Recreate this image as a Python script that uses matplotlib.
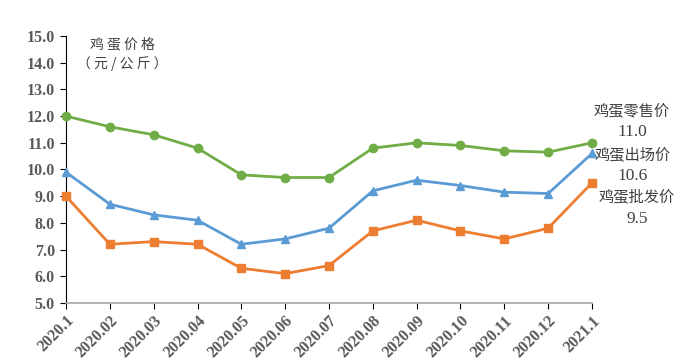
import numpy as np
import matplotlib.pyplot as plt

plt.rcParams['font.family'] = ['Noto Sans CJK SC', 'DejaVu Sans']

months = ['2020.1', '2020.02', '2020.03', '2020.04', '2020.05', '2020.06', '2020.07',
          '2020.08', '2020.09', '2020.10', '2020.11', '2020.12', '2021.1']
retail = [12.0, 11.6, 11.3, 10.8, 9.8, 9.7, 9.7, 10.8, 11.0, 10.9, 10.7, 10.65, 11.0]
farm = [9.9, 8.7, 8.3, 8.1, 7.2, 7.4, 7.8, 9.2, 9.6, 9.4, 9.15, 9.1, 10.6]
wholesale = [9.0, 7.2, 7.3, 7.2, 6.3, 6.1, 6.4, 7.7, 8.1, 7.7, 7.4, 7.8, 9.5]

fig = plt.figure(figsize=(7, 3.64), dpi=100)
ax = fig.add_axes([0.0943, 0.1676, 0.7514, 0.7335])

x = np.arange(len(months))
ax.plot(x, retail, '-o', color='#70AD47', lw=2, ms=6, clip_on=False, zorder=3)
ax.plot(x, farm, '-^', color='#5B9BD5', lw=2, ms=6, clip_on=False, zorder=3)
ax.plot(x, wholesale, '-s', color='#ED7D31', lw=2, ms=6, clip_on=False, zorder=3)

ax.set_xlim(0, len(months) - 1)
ax.set_ylim(5, 15)
ax.set_yticks(np.arange(5, 15.5, 1))
ax.set_yticklabels([f'{v:.1f}' for v in np.arange(5, 15.5, 1)],
                   family='Liberation Serif', fontweight='bold', fontsize=11.5, color='#595959')
ax.set_xticks(x)
ax.set_xticklabels(months, rotation=45, ha='right', rotation_mode='anchor',
                   family='Liberation Serif', fontweight='bold', fontsize=11.5, color='#595959')

for s in ['top', 'right']:
    ax.spines[s].set_visible(False)
ax.spines['left'].set_color('black')
ax.spines['bottom'].set_color('#A6A6A6')
ax.spines['bottom'].set_linewidth(1.2)
ax.tick_params(axis='y', direction='out', length=4, color='black', pad=4)
ax.tick_params(axis='x', direction='out', length=4, color='black', pad=3)

tc = '#404040'
fig.text(122 / 700, 1 - 44 / 364, '鸡 蛋 价 格', ha='center', va='center', fontsize=10, color=tc)
fig.text(122 / 700, 1 - 64 / 364, '（ 元 / 公 斤 ）', ha='center', va='center', fontsize=10, color=tc)

labels = [('鸡蛋零售价', '11.0', 632, 111, 132),
          ('鸡蛋出场价', '10.6', 633, 155, 176),
          ('鸡蛋批发价', '9.5', 637, 197, 219)]
for name, val, px, py1, py2 in labels:
    fig.text(px / 700, 1 - py1 / 364, name, ha='center', va='center', fontsize=11, color=tc)
    fig.text(px / 700, 1 - py2 / 364, val, ha='center', va='center', fontsize=12.5,
             family='Liberation Serif', color=tc)

fig.savefig('out.png', dpi=100)
